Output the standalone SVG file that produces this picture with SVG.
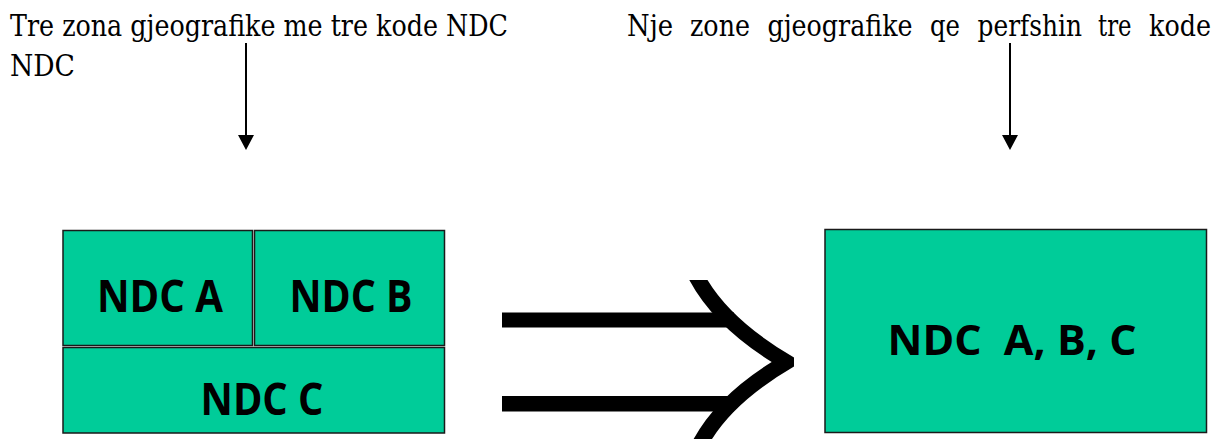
<svg xmlns="http://www.w3.org/2000/svg" width="1225" height="439" viewBox="0 0 1225 439">
  <defs>
    <style>
      .cap { font-family: 'DejaVu Serif', 'Liberation Serif', serif; font-size: 29px; fill: #000; }
      .box { fill: #00CC99; stroke: #1a1a1a; stroke-width: 1.5; }
      .lbl { font-family: 'Open Sans', 'DejaVu Sans', sans-serif; font-weight: 700; fill: #000; }
      .thin { stroke: #000; stroke-width: 2; fill: none; }
      .bold { fill: #000; }
    </style>
    <marker id="ah" markerUnits="userSpaceOnUse" markerWidth="16" markerHeight="16" viewBox="0 0 16 16" refX="0" refY="8" orient="auto">
      <path d="M0,0 L15,8 L0,16 Z" fill="#000"/>
    </marker>
  </defs>
  <rect width="1225" height="439" fill="#fff"/>

  <g id="caption-left">
    <text class="cap" x="10" y="35.5" textLength="498" lengthAdjust="spacingAndGlyphs">Tre zona gjeografike me tre kode NDC</text>
    <text class="cap" x="10" y="76" textLength="65" lengthAdjust="spacingAndGlyphs">NDC</text>
  </g>

  <g id="caption-right">
    <text class="cap" x="627" y="35.5" textLength="46" lengthAdjust="spacingAndGlyphs">Nje</text>
    <text class="cap" x="690" y="35.5" textLength="60" lengthAdjust="spacingAndGlyphs">zone</text>
    <text class="cap" x="767.5" y="35.5" textLength="145" lengthAdjust="spacingAndGlyphs">gjeografike</text>
    <text class="cap" x="930" y="35.5" textLength="30" lengthAdjust="spacingAndGlyphs">qe</text>
    <text class="cap" x="977.5" y="35.5" textLength="104.5" lengthAdjust="spacingAndGlyphs">perfshin</text>
    <text class="cap" x="1098" y="35.5" textLength="33.5" lengthAdjust="spacingAndGlyphs">tre</text>
    <text class="cap" x="1149" y="35.5" textLength="62" lengthAdjust="spacingAndGlyphs">kode</text>
  </g>

  <g id="ndc-a">
    <rect class="box" x="63" y="230.5" width="189.5" height="115"/>
    <text class="lbl" x="97" y="311.5" font-size="44" textLength="126" lengthAdjust="spacingAndGlyphs">NDC A</text>
  </g>
  <g id="ndc-b">
    <rect class="box" x="254.5" y="230.5" width="190" height="115"/>
    <text class="lbl" x="289.5" y="311.5" font-size="44" textLength="123" lengthAdjust="spacingAndGlyphs">NDC B</text>
  </g>
  <g id="ndc-c">
    <rect class="box" x="63" y="347.5" width="381.5" height="85.5"/>
    <text class="lbl" x="200.5" y="415" font-size="44" textLength="123" lengthAdjust="spacingAndGlyphs">NDC C</text>
  </g>
  <g id="ndc-abc">
    <rect class="box" x="825" y="229.5" width="381.5" height="203"/>
    <text class="lbl" x="887.5" y="354.5" font-size="42" textLength="249" lengthAdjust="spacingAndGlyphs" xml:space="preserve">NDC  A, B, C</text>
  </g>

  <g id="connectors">
    <line class="thin" x1="246" y1="43" x2="246" y2="135" marker-end="url(#ah)"/>
    <line class="thin" x1="1010" y1="43" x2="1010" y2="135" marker-end="url(#ah)"/>
    <g id="big-arrow" class="bold">
      <rect x="502" y="312.5" width="232" height="15"/>
      <rect x="502" y="396" width="232" height="15.5"/>
      <path d="M689.3,280 L707.5,280 Q733,322 794,357.5 L794,366.5 Q733,402 709,444 L691,444 Q714,398 771.7,362 Q714,326 689.3,280 Z"/>
    </g>
  </g>
</svg>
